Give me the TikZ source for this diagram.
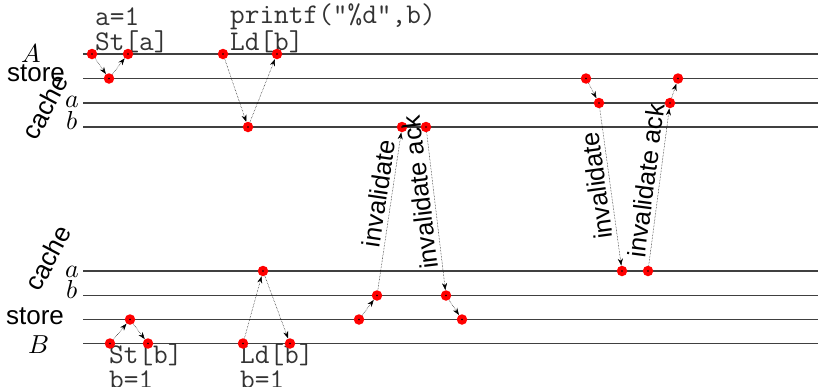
\documentclass[tikz,border=0pt]{standalone}
\usepackage{unicode-math}
\setsansfont{Liberation Sans}
\usetikzlibrary{arrows.meta}
\tikzstyle{ev} = [circle, fill=red, inner sep=0pt, minimum size=10.5pt, path picture={\fill[black] (path picture bounding box.center) circle (0.9pt);}]
\tikzstyle{msg} = [densely dotted, line width=0.5pt, ->, >={Stealth[length=7pt, width=5pt]}]
\tikzstyle{timeline} = [line width=1.4pt, black!75]
\tikzstyle{lane} = [font=\fontsize{26}{26}\selectfont\sffamily, inner sep=0pt]
\tikzstyle{var} = [font=\fontsize{26}{26}\selectfont, inner sep=0pt]
\tikzstyle{codetext} = [font=\fontsize{28.5}{25.5}\selectfont\ttfamily, text=black!80, align=left, inner sep=0pt, anchor=base west]
\tikzstyle{msglabel} = [font=\fontsize{25.5}{25.5}\selectfont\sffamily, anchor=south, inner sep=4pt]

\begin{document}
\begin{tikzpicture}[x=1pt, y=-1pt]
\useasboundingbox (0,0) rectangle (818,386);

% Time lines
\foreach \y in {54,78.5,103,127,271,295.5,319.5,343.5}
  \draw [timeline] (83,\y) -- (818,\y);

% Lane labels
\node (labA) [var] at (31,53) {$A$};
\node (storeA) [lane] at (36,73) {store};
\node (cacheA) [lane, rotate=62] at (45,107) {cache};
\node (varaA) [var] at (72,102) {$a$};
\node (varbA) [var] at (72,121) {$b$};
\node (cacheB) [lane, rotate=62] at (48,258) {cache};
\node (varaB) [var] at (72,272) {$a$};
\node (varbB) [var] at (72,290) {$b$};
\node (storeB) [lane] at (35,316) {store};
\node (labB) [var] at (39,345) {$B$};

% Code (base = last line)
\node (codeA1) [codetext] at (95,50.5) {a=1\\St[a]};
\node (codeA2) [codetext] at (230,50.5) {printf("\%d",b)\\Ld[b]};
\node (codeB1) [codetext] at (109,388.5) {St[b]\\b=1};
\node (codeB2) [codetext] at (240,388.5) {Ld[b]\\b=1};

% Events of A
\node (a1) [ev] at (92,54) {};
\node (a2) [ev] at (128,54) {};
\node (a3) [ev] at (223,54) {};
\node (a4) [ev] at (277,54) {};
\node (ts1) [ev] at (109,78.5) {};
\node (ts2) [ev] at (586,78.5) {};
\node (ts3) [ev] at (678,78.5) {};
\node (tca1) [ev] at (599,103) {};
\node (tca2) [ev] at (670,103) {};
\node (tcb1) [ev] at (248,127) {};
\node (tcb2) [ev] at (402,127) {};
\node (tcb3) [ev] at (426,127) {};

% Events of B
\node (bca1) [ev] at (263,271) {};
\node (bca2) [ev] at (622,271) {};
\node (bca3) [ev] at (648,271) {};
\node (bcb1) [ev] at (377,295.5) {};
\node (bcb2) [ev] at (446,295.5) {};
\node (bs1) [ev] at (130,319.5) {};
\node (bs2) [ev] at (359,319.5) {};
\node (bs3) [ev] at (462,319.5) {};
\node (b1) [ev] at (110,343.5) {};
\node (b2) [ev] at (148,343.5) {};
\node (b3) [ev] at (243,343.5) {};
\node (b4) [ev] at (290,343.5) {};

% Messages
\draw [msg] (a1) -- (ts1);
\draw [msg] (ts1) -- (a2);
\draw [msg] (a3) -- (tcb1);
\draw [msg] (tcb1) -- (a4);
\draw [msg] (b1) -- (bs1);
\draw [msg] (bs1) -- (b2);
\draw [msg] (b3) -- (bca1);
\draw [msg] (bca1) -- (b4);
\draw [msg] (bs2) -- (bcb1);
\draw [msg] (bcb1) -- node[msglabel, rotate=81.5, pos=0.6] {invalidate} (tcb2);
\draw [msg] (tcb3) -- node[msglabel, rotate=96.8, pos=0.37] {invalidate ack} (bcb2);
\draw [msg] (bcb2) -- (bs3);
\draw [msg] (ts2) -- (tca1);
\draw [msg] (tca1) -- node[msglabel, rotate=97.8, pos=0.48] {invalidate} (bca2);
\draw [msg] (bca3) -- node[msglabel, rotate=82.6, pos=0.53] {invalidate ack} (tca2);
\draw [msg] (tca2) -- (ts3);

\end{tikzpicture}
\end{document}
